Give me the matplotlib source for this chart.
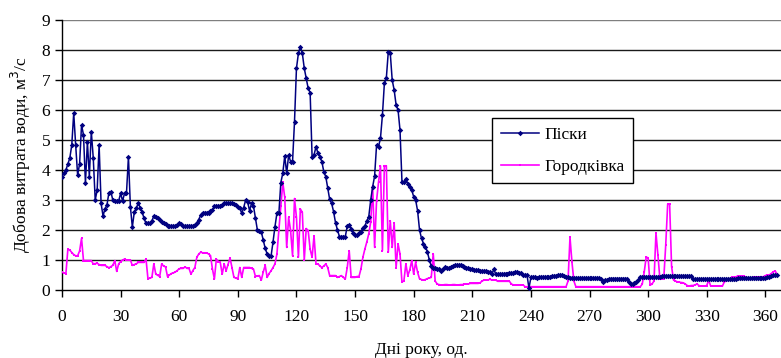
import matplotlib
matplotlib.use("Agg")
import matplotlib.pyplot as plt

plt.rcParams['font.family'] = ['Liberation Serif', 'DejaVu Serif']

series_names = ["Піски", "Городківка"]
x_ticks = [0, 30, 60, 90, 120, 150, 180, 210, 240, 270, 300, 330, 360]
y_ticks = [0, 1, 2, 3, 4, 5, 6, 7, 8, 9]
x_label = "Дні року, од."
y_label = "Добова витрата води, м$^3$/с"

piski = [
    3.78, 3.9, 4.0, 4.2, 4.4, 4.83, 5.9, 4.83, 3.83, 4.2,
    5.5, 5.17, 3.56, 4.94, 3.78, 5.28, 4.4, 3.0, 3.33, 4.83,
    2.89, 2.47, 2.7, 2.83, 3.24, 3.28, 3.0, 2.97, 2.97, 2.97,
    3.22, 2.97, 3.22, 3.22, 4.44, 2.78, 2.1, 2.6, 2.72, 2.89,
    2.75, 2.6, 2.39, 2.22, 2.22, 2.22, 2.3, 2.47, 2.42, 2.39,
    2.33, 2.28, 2.22, 2.2, 2.13, 2.13, 2.13, 2.13, 2.13, 2.18,
    2.24, 2.2, 2.13, 2.13, 2.13, 2.13, 2.13, 2.13, 2.18, 2.24,
    2.35, 2.5, 2.58, 2.58, 2.58, 2.58, 2.62, 2.67, 2.8, 2.8,
    2.8, 2.8, 2.85, 2.91, 2.91, 2.91, 2.91, 2.91, 2.87, 2.83,
    2.78, 2.72, 2.56, 2.75, 3.0, 2.94, 2.64, 2.89, 2.8, 2.4,
    2.0, 1.97, 1.94, 1.67, 1.39, 1.2, 1.13, 1.13, 1.6, 2.11,
    2.56, 2.56, 3.58, 3.89, 4.47, 3.89, 4.5, 4.28, 4.28, 5.61,
    7.39, 7.89, 8.11, 7.89, 7.39, 7.06, 6.72, 6.58, 4.44, 4.5,
    4.78, 4.56, 4.44, 4.28, 3.94, 3.78, 3.39, 3.02, 2.89, 2.61,
    2.24, 2.0, 1.78, 1.78, 1.78, 1.78, 2.13, 2.17, 2.05, 1.89,
    1.85, 1.83, 1.9, 1.94, 2.08, 2.13, 2.3, 2.44, 3.0, 3.44,
    3.8, 4.83, 4.78, 5.06, 5.83, 6.89, 7.06, 7.94, 7.91, 7.0,
    6.67, 6.17, 6.0, 5.33, 3.61, 3.61, 3.69, 3.55, 3.44, 3.33,
    3.11, 3.0, 2.64, 2.0, 1.72, 1.55, 1.44, 1.28, 1.0, 0.8,
    0.75, 0.72, 0.7, 0.69, 0.64, 0.7, 0.76, 0.74, 0.72, 0.76,
    0.8, 0.82, 0.83, 0.83, 0.82, 0.8, 0.78, 0.75, 0.72, 0.7,
    0.69, 0.67, 0.67, 0.66, 0.65, 0.64, 0.63, 0.62, 0.61, 0.6,
    0.53, 0.69, 0.53, 0.53, 0.53, 0.54, 0.54, 0.55, 0.55, 0.56,
    0.56, 0.58, 0.6, 0.6, 0.58, 0.56, 0.5, 0.5, 0.5, 0.06,
    0.42, 0.44, 0.42, 0.39, 0.42, 0.42, 0.42, 0.42, 0.42, 0.42,
    0.45, 0.46, 0.48, 0.48, 0.5, 0.5, 0.5, 0.46, 0.44, 0.44,
    0.39, 0.39, 0.39, 0.39, 0.39, 0.39, 0.39, 0.39, 0.39, 0.39,
    0.39, 0.39, 0.39, 0.39, 0.39, 0.39, 0.38, 0.28, 0.32, 0.32,
    0.38, 0.38, 0.38, 0.38, 0.38, 0.38, 0.38, 0.38, 0.38, 0.38,
    0.28, 0.2, 0.2, 0.22, 0.28, 0.32, 0.42, 0.42, 0.44, 0.44,
    0.44, 0.44, 0.44, 0.44, 0.44, 0.44, 0.44, 0.47, 0.47, 0.47,
    0.47, 0.47, 0.47, 0.47, 0.47, 0.47, 0.47, 0.47, 0.47, 0.47,
    0.47, 0.47, 0.47, 0.36, 0.36, 0.36, 0.36, 0.36, 0.36, 0.36,
    0.36, 0.36, 0.36, 0.36, 0.36, 0.36, 0.36, 0.36, 0.36, 0.36,
    0.36, 0.36, 0.36, 0.36, 0.36, 0.36, 0.4, 0.4, 0.4, 0.4,
    0.4, 0.4, 0.4, 0.4, 0.4, 0.4, 0.4, 0.4, 0.4, 0.4,
    0.4, 0.42, 0.45, 0.47, 0.5, 0.5, 0.5,
]

horodkivka = [
    0.59, 0.57, 0.55, 1.36, 1.33, 1.25, 1.18, 1.14, 1.14, 1.3,
    1.72, 0.98, 0.98, 0.98, 0.98, 0.98, 0.87, 0.88, 0.89, 0.85,
    0.82, 0.82, 0.82, 0.78, 0.74, 0.78, 0.82, 0.98, 0.62, 0.87,
    0.95, 1.0, 1.03, 1.0, 1.0, 1.0, 0.82, 0.85, 0.87, 0.92,
    0.92, 0.92, 0.92, 1.03, 0.37, 0.4, 0.42, 0.87, 0.53, 0.49,
    0.45, 0.87, 0.8, 0.77, 0.45, 0.5, 0.55, 0.57, 0.6, 0.65,
    0.71, 0.72, 0.72, 0.77, 0.72, 0.72, 0.53, 0.65, 0.75, 1.09,
    1.2, 1.26, 1.24, 1.24, 1.24, 1.2, 1.15, 0.7, 0.37, 1.03,
    0.95, 0.92, 0.53, 0.87, 0.64, 0.85, 1.07, 0.75, 0.42, 0.4,
    0.37, 0.75, 0.42, 0.75, 0.75, 0.75, 0.75, 0.72, 0.7, 0.45,
    0.47, 0.48, 0.33, 0.6, 0.82, 0.42, 0.55, 0.64, 0.75, 0.87,
    1.2, 2.0, 2.8, 3.59, 3.09, 1.42, 2.42, 1.98, 1.14, 3.05,
    2.42, 1.09, 2.7, 2.59, 1.0, 2.05, 1.98, 1.36, 1.09, 1.81,
    0.87, 0.87, 0.8, 0.75, 0.8, 0.87, 0.75, 0.48, 0.48, 0.48,
    0.48, 0.42, 0.45, 0.48, 0.42, 0.37, 0.75, 1.31, 0.42, 0.42,
    0.42, 0.45, 0.45, 0.7, 1.09, 1.36, 1.6, 1.87, 2.26, 3.48,
    1.42, 2.98, 3.59, 4.14, 1.31, 4.14, 4.14, 1.26, 2.31, 1.42,
    2.24, 0.75, 1.54, 1.2, 0.26, 0.31, 0.87, 0.48, 0.67, 0.98,
    0.53, 0.92, 0.59, 0.37, 0.35, 0.33, 0.35, 0.38, 0.4, 0.42,
    1.21, 0.3, 0.2, 0.18, 0.17, 0.17, 0.18, 0.18, 0.17, 0.17,
    0.18, 0.18, 0.17, 0.17, 0.18, 0.18, 0.2, 0.2, 0.2, 0.22,
    0.22, 0.22, 0.22, 0.22, 0.24, 0.3, 0.33, 0.33, 0.33, 0.36,
    0.33, 0.33, 0.33, 0.29, 0.29, 0.29, 0.29, 0.29, 0.29, 0.29,
    0.2, 0.17, 0.17, 0.17, 0.17, 0.17, 0.17, 0.11, 0.11, 0.11,
    0.11, 0.11, 0.11, 0.11, 0.11, 0.11, 0.11, 0.11, 0.11, 0.11,
    0.11, 0.11, 0.11, 0.11, 0.11, 0.11, 0.11, 0.11, 0.11, 0.3,
    1.76, 0.93, 0.3, 0.11, 0.11, 0.11, 0.11, 0.11, 0.11, 0.11,
    0.11, 0.11, 0.11, 0.11, 0.11, 0.11, 0.11, 0.11, 0.11, 0.11,
    0.11, 0.11, 0.11, 0.11, 0.11, 0.11, 0.11, 0.11, 0.11, 0.11,
    0.11, 0.11, 0.11, 0.11, 0.11, 0.11, 0.11, 0.2, 0.6, 1.1,
    1.07, 0.16, 0.2, 0.3, 1.9, 1.17, 0.38, 0.38, 0.38, 1.5,
    2.86, 2.86, 0.78, 0.33, 0.3, 0.27, 0.26, 0.25, 0.24, 0.2,
    0.15, 0.13, 0.15, 0.15, 0.17, 0.2, 0.15, 0.13, 0.13, 0.13,
    0.15, 0.33, 0.13, 0.13, 0.13, 0.13, 0.13, 0.13, 0.13, 0.27,
    0.3, 0.34, 0.38, 0.42, 0.44, 0.44, 0.47, 0.47, 0.47, 0.47,
    0.42, 0.4, 0.38, 0.4, 0.42, 0.42, 0.42, 0.44, 0.44, 0.44,
    0.48, 0.5, 0.5, 0.55, 0.6, 0.64, 0.52,
]

days_p = list(range(len(piski)))
days_h = list(range(len(horodkivka)))

fig = plt.figure(figsize=(7.81, 3.58), dpi=100)
ax = fig.add_axes([62 / 781, 1 - 290 / 358, 1 - 62 / 781, 270 / 358])

for yv in y_ticks[1:]:
    ax.axhline(yv, color='#7f7f7f' if yv == 9 else '#1a1a1a', lw=1.0, zorder=1)

ax.plot(days_h, horodkivka, color='#FF00FF', lw=1.2, marker='s', ms=2.0,
        markeredgewidth=0, label=series_names[1], zorder=3)
ax.plot(days_p, piski, color='#000080', lw=1.1, marker='D', ms=2.8,
        markeredgewidth=0, label=series_names[0], zorder=4)

ax.set_xlim(0, 368)
ax.set_ylim(0, 9)
ax.set_xticks(x_ticks)
ax.set_yticks(y_ticks)
ax.tick_params(axis='both', direction='out', length=5, width=1, labelsize=12.5,
               color='black')
ax.tick_params(axis='x', pad=9)
for s in ['top', 'right']:
    ax.spines[s].set_visible(False)
for s in ['left', 'bottom']:
    ax.spines[s].set_color('black')
    ax.spines[s].set_linewidth(1.0)

ax.set_xlabel(x_label, fontsize=12.5, labelpad=12)
ax.set_ylabel(y_label, fontsize=12.5, labelpad=6)

h, l = ax.get_legend_handles_labels()
leg = ax.legend(h[::-1], l[::-1], loc='upper left', bbox_to_anchor=(0.598, 0.637),
                borderaxespad=0, fontsize=12.5, frameon=True, fancybox=False,
                edgecolor='black', framealpha=1, handlelength=2.2,
                handletextpad=0.3, labelspacing=0.9, borderpad=0.5)
leg.get_frame().set_linewidth(1.0)

fig.savefig("out.png", dpi=100)
